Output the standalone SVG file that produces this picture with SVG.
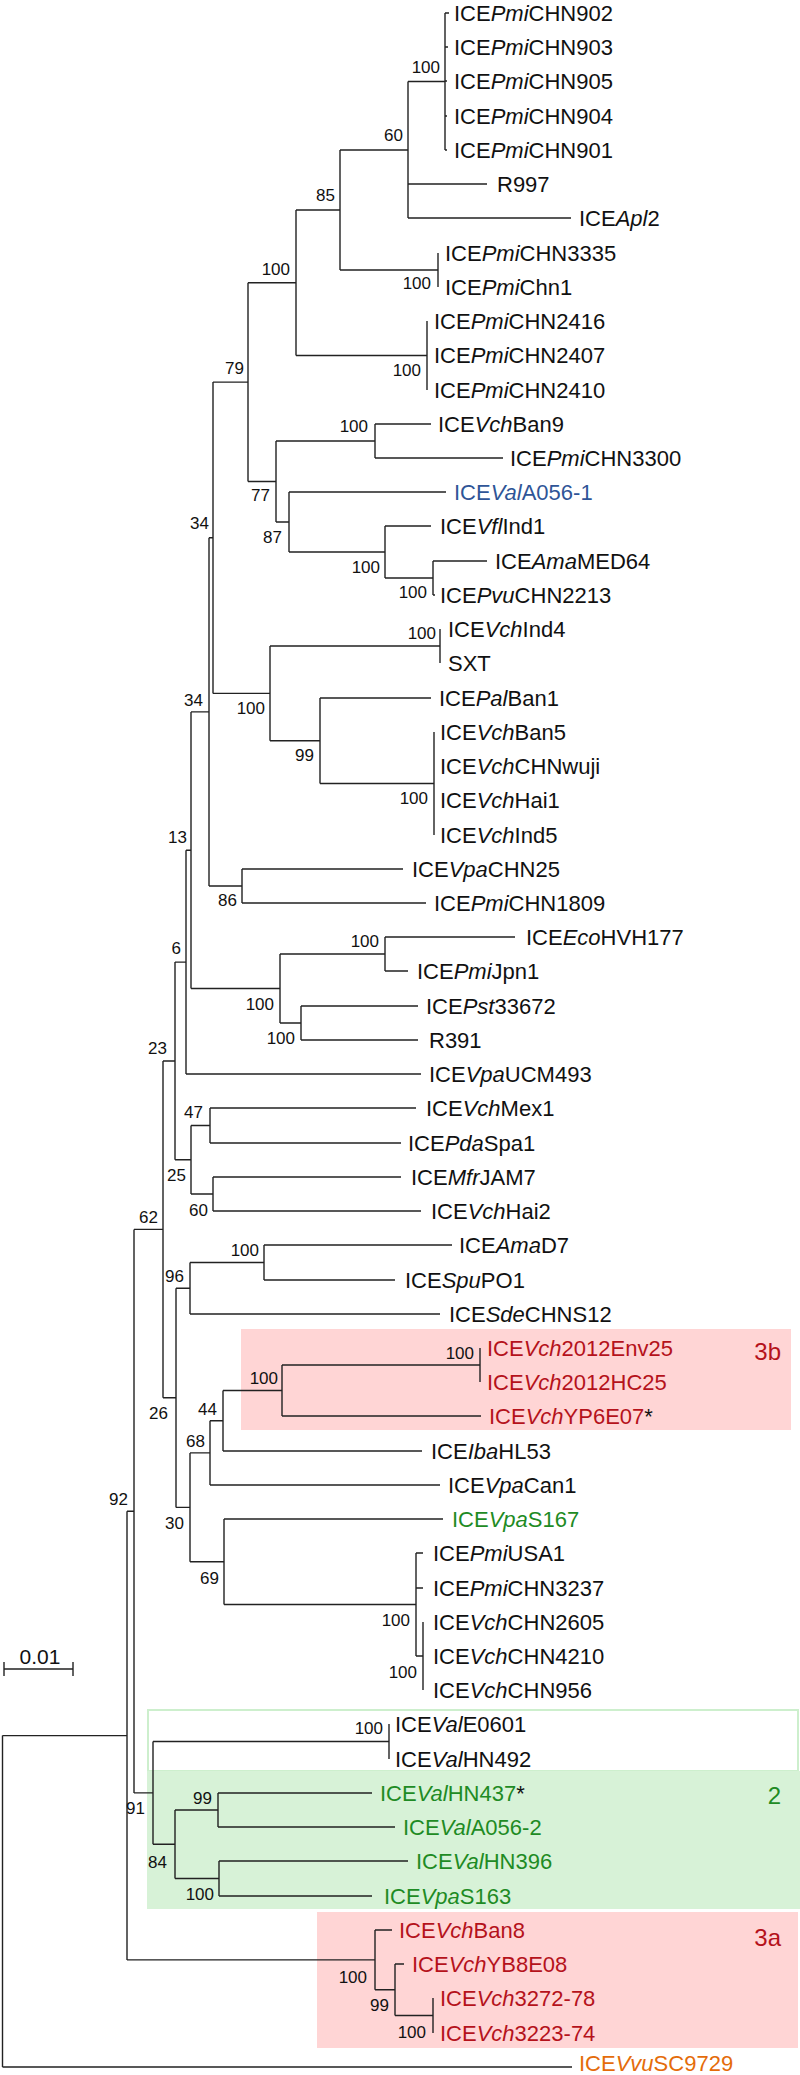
<svg xmlns="http://www.w3.org/2000/svg" width="800" height="2075" viewBox="0 0 800 2075">
<style>
text{font-family:"Liberation Sans",Arial,sans-serif;fill:#111}
.t{font-size:22px}
.b{font-size:17px;text-anchor:end}
.i{font-style:italic}
.r{fill:#B5121B}
.g{fill:#1E8B24}
.bl{fill:#2F5597}
.o{fill:#E46C0A}
.k{fill:#111}
.cl{font-size:24px;text-anchor:end}
.ln{fill:none;stroke:#222;stroke-width:1.4}
</style>
<g id="boxes">
<rect x="241" y="1329" width="550" height="101" fill="#FFD5D5"/>
<rect x="148" y="1710" width="650" height="61" fill="#FFFFFF" stroke="#CDEFCD" stroke-width="2"/>
<rect x="147" y="1771" width="653" height="138" fill="#D7F2D7"/>
<rect x="317" y="1912" width="481" height="136" fill="#FFD5D5"/>
</g>
<g id="connectors" class="ln">
<path d="M2.5,1735.6V2067M2.5,1735.6H127M2.5,2067H572"/>
<path d="M127,1511.2V1959.9M127,1511.2H134M127,1959.9H375"/>
<path d="M134,1229.4V1792.9M134,1229.4H163M134,1792.9H153"/>
<path d="M163,1061V1397.8M163,1061H175M163,1397.8H176"/>
<path d="M175,962.1V1159.8M175,962.1H186M175,1159.8H191"/>
<path d="M186,850.2V1074M186,850.2H191M186,1074H421"/>
<path d="M191,711.9V988.5M191,711.9H209M191,988.5H280"/>
<path d="M209,537.8V886M209,537.8H213M209,886H242"/>
<path d="M213,382.1V693.4M213,382.1H248M213,693.4H270"/>
<path d="M248,282.8V481.5M248,282.8H296M248,481.5H276"/>
<path d="M296,210V355.5M296,210H340M296,355.5H427"/>
<path d="M340,150V270M340,150H408M340,270H438"/>
<path d="M408,81.5V218M408,81.5H445M408,184H487M408,218H571"/>
<path d="M445,13V150M445,13H449M445,47H448M445,81H447M445,116H447M445,150H447"/>
<path d="M438,253V287"/>
<path d="M427,321V390"/>
<path d="M276,441V522M276,441H375M276,522H289"/>
<path d="M375,424V458M375,424H431M375,458H503"/>
<path d="M289,492V552M289,492H446M289,552H385"/>
<path d="M385,526V578M385,526H431M385,578H433"/>
<path d="M433,561V595M433,561H487M433,595H435"/>
<path d="M270,646V740.8M270,646H440M270,740.8H320"/>
<path d="M440,629V663"/>
<path d="M320,698V783.5M320,698H431M320,783.5H434"/>
<path d="M434,732V835"/>
<path d="M242,869V903M242,869H403M242,903H426"/>
<path d="M280,954V1023M280,954H385M280,1023H301"/>
<path d="M385,937V971M385,937H515M385,971H408"/>
<path d="M301,1006V1040M301,1006H418M301,1040H418"/>
<path d="M191,1125.5V1194M191,1125.5H210M191,1194H213"/>
<path d="M210,1108V1143M210,1108H416M210,1143H401"/>
<path d="M213,1177V1211M213,1177H401M213,1211H421"/>
<path d="M176,1288.3V1507.4M176,1288.3H190M176,1507.4H190"/>
<path d="M190,1262.5V1314M190,1262.5H264M190,1314H440"/>
<path d="M264,1245V1280M264,1245H452M264,1280H395"/>
<path d="M190,1452.9V1561.8M190,1452.9H210M190,1561.8H224"/>
<path d="M210,1420.8V1485M210,1420.8H223M210,1485H440"/>
<path d="M223,1390.5V1451M223,1390.5H282M223,1451H422"/>
<path d="M282,1365V1416M282,1365H480M282,1416H481"/>
<path d="M480,1348V1382"/>
<path d="M224,1519V1604.5M224,1519H443M224,1604.5H416"/>
<path d="M416,1553V1656M416,1553H423M416,1588H423M416,1656H423"/>
<path d="M423,1622V1690"/>
<path d="M153,1741.5V1844.3M153,1741.5H389M153,1844.3H175"/>
<path d="M389,1724V1759"/>
<path d="M175,1810V1878.5M175,1810H218M175,1878.5H219"/>
<path d="M218,1793V1827M218,1793H372M218,1827H395"/>
<path d="M219,1861V1896M219,1861H408M219,1896H372"/>
<path d="M375,1930V1989.8M375,1930H392M375,1989.8H395"/>
<path d="M395,1964V2015.5M395,1964H404M395,2015.5H433"/>
<path d="M433,1998V2033"/>
<path d="M4,1669H73M4,1662V1676M73,1662V1676"/>
</g>
<g id="scale"><text x="40" y="1664" style="font-size:21px;text-anchor:middle">0.01</text></g>
<g id="support">
<text class="b" x="440" y="73">100</text>
<text class="b" x="403" y="141">60</text>
<text class="b" x="335" y="201">85</text>
<text class="b" x="431" y="289">100</text>
<text class="b" x="290" y="275">100</text>
<text class="b" x="421" y="376">100</text>
<text class="b" x="244" y="374">79</text>
<text class="b" x="368" y="432">100</text>
<text class="b" x="270" y="501">77</text>
<text class="b" x="209" y="529">34</text>
<text class="b" x="282" y="543">87</text>
<text class="b" x="380" y="573">100</text>
<text class="b" x="427" y="598">100</text>
<text class="b" x="436" y="639">100</text>
<text class="b" x="203" y="706">34</text>
<text class="b" x="265" y="714">100</text>
<text class="b" x="314" y="761">99</text>
<text class="b" x="428" y="804">100</text>
<text class="b" x="187" y="843">13</text>
<text class="b" x="237" y="906">86</text>
<text class="b" x="181" y="954">6</text>
<text class="b" x="379" y="947">100</text>
<text class="b" x="274" y="1010">100</text>
<text class="b" x="295" y="1044">100</text>
<text class="b" x="167" y="1054">23</text>
<text class="b" x="203" y="1118">47</text>
<text class="b" x="186" y="1181">25</text>
<text class="b" x="208" y="1216">60</text>
<text class="b" x="158" y="1223">62</text>
<text class="b" x="259" y="1256">100</text>
<text class="b" x="184" y="1282">96</text>
<text class="b" x="474" y="1359">100</text>
<text class="b" x="278" y="1384">100</text>
<text class="b" x="168" y="1419">26</text>
<text class="b" x="217" y="1415">44</text>
<text class="b" x="205" y="1447">68</text>
<text class="b" x="128" y="1505">92</text>
<text class="b" x="184" y="1529">30</text>
<text class="b" x="219" y="1584">69</text>
<text class="b" x="410" y="1626">100</text>
<text class="b" x="417" y="1678">100</text>
<text class="b" x="383" y="1734">100</text>
<text class="b" x="145" y="1814">91</text>
<text class="b" x="212" y="1804">99</text>
<text class="b" x="167" y="1868">84</text>
<text class="b" x="214" y="1900">100</text>
<text class="b" x="367" y="1983">100</text>
<text class="b" x="389" y="2011">99</text>
<text class="b" x="426" y="2038">100</text>
</g>
<g id="clade-labels">
<text class="cl r" x="781" y="1360">3b</text>
<text class="cl g" x="781" y="1804">2</text>
<text class="cl r" x="781" y="1946">3a</text>
</g>
<g id="leaves" class="t">
<g id="n0"><text class="t" x="454" y="20.5">ICE<tspan class="i">Pmi</tspan>CHN902</text></g>
<g id="n1"><text class="t" x="454" y="54.5">ICE<tspan class="i">Pmi</tspan>CHN903</text></g>
<g id="n2"><text class="t" x="454" y="88.5">ICE<tspan class="i">Pmi</tspan>CHN905</text></g>
<g id="n3"><text class="t" x="454" y="123.5">ICE<tspan class="i">Pmi</tspan>CHN904</text></g>
<g id="n4"><text class="t" x="454" y="157.5">ICE<tspan class="i">Pmi</tspan>CHN901</text></g>
<g id="n5"><text class="t" x="497" y="191.5">R997</text></g>
<g id="n6"><text class="t" x="579" y="225.5">ICE<tspan class="i">Apl</tspan>2</text></g>
<g id="n7"><text class="t" x="445" y="260.5">ICE<tspan class="i">Pmi</tspan>CHN3335</text></g>
<g id="n8"><text class="t" x="445" y="294.5">ICE<tspan class="i">Pmi</tspan>Chn1</text></g>
<g id="n9"><text class="t" x="434" y="328.5">ICE<tspan class="i">Pmi</tspan>CHN2416</text></g>
<g id="n10"><text class="t" x="434" y="362.5">ICE<tspan class="i">Pmi</tspan>CHN2407</text></g>
<g id="n11"><text class="t" x="434" y="397.5">ICE<tspan class="i">Pmi</tspan>CHN2410</text></g>
<g id="n12"><text class="t" x="438" y="431.5">ICE<tspan class="i">Vch</tspan>Ban9</text></g>
<g id="n13"><text class="t" x="510" y="465.5">ICE<tspan class="i">Pmi</tspan>CHN3300</text></g>
<g id="n14"><text class="t bl" x="454" y="499.5">ICE<tspan class="i">Val</tspan>A056-1</text></g>
<g id="n15"><text class="t" x="440" y="533.5">ICE<tspan class="i">Vfl</tspan>Ind1</text></g>
<g id="n16"><text class="t" x="495" y="568.5">ICE<tspan class="i">Ama</tspan>MED64</text></g>
<g id="n17"><text class="t" x="440" y="602.5">ICE<tspan class="i">Pvu</tspan>CHN2213</text></g>
<g id="n18"><text class="t" x="448" y="636.5">ICE<tspan class="i">Vch</tspan>Ind4</text></g>
<g id="n19"><text class="t" x="448" y="670.5">SXT</text></g>
<g id="n20"><text class="t" x="439" y="705.5">ICE<tspan class="i">Pal</tspan>Ban1</text></g>
<g id="n21"><text class="t" x="440" y="739.5">ICE<tspan class="i">Vch</tspan>Ban5</text></g>
<g id="n22"><text class="t" x="440" y="773.5">ICE<tspan class="i">Vch</tspan>CHNwuji</text></g>
<g id="n23"><text class="t" x="440" y="807.5">ICE<tspan class="i">Vch</tspan>Hai1</text></g>
<g id="n24"><text class="t" x="440" y="842.5">ICE<tspan class="i">Vch</tspan>Ind5</text></g>
<g id="n25"><text class="t" x="412" y="876.5">ICE<tspan class="i">Vpa</tspan>CHN25</text></g>
<g id="n26"><text class="t" x="434" y="910.5">ICE<tspan class="i">Pmi</tspan>CHN1809</text></g>
<g id="n27"><text class="t" x="526" y="944.5">ICE<tspan class="i">Eco</tspan>HVH177</text></g>
<g id="n28"><text class="t" x="417" y="978.5">ICE<tspan class="i">Pmi</tspan>Jpn1</text></g>
<g id="n29"><text class="t" x="426" y="1013.5">ICE<tspan class="i">Pst</tspan>33672</text></g>
<g id="n30"><text class="t" x="429" y="1047.5">R391</text></g>
<g id="n31"><text class="t" x="429" y="1081.5">ICE<tspan class="i">Vpa</tspan>UCM493</text></g>
<g id="n32"><text class="t" x="426" y="1115.5">ICE<tspan class="i">Vch</tspan>Mex1</text></g>
<g id="n33"><text class="t" x="408" y="1150.5">ICE<tspan class="i">Pda</tspan>Spa1</text></g>
<g id="n34"><text class="t" x="411" y="1184.5">ICE<tspan class="i">Mfr</tspan>JAM7</text></g>
<g id="n35"><text class="t" x="431" y="1218.5">ICE<tspan class="i">Vch</tspan>Hai2</text></g>
<g id="n36"><text class="t" x="459" y="1252.5">ICE<tspan class="i">Ama</tspan>D7</text></g>
<g id="n37"><text class="t" x="405" y="1287.5">ICE<tspan class="i">Spu</tspan>PO1</text></g>
<g id="n38"><text class="t" x="449" y="1321.5">ICE<tspan class="i">Sde</tspan>CHNS12</text></g>
<g id="n39"><text class="t r" x="487" y="1355.5">ICE<tspan class="i">Vch</tspan>2012Env25</text></g>
<g id="n40"><text class="t r" x="487" y="1389.5">ICE<tspan class="i">Vch</tspan>2012HC25</text></g>
<g id="n41"><text class="t r" x="489" y="1423.5">ICE<tspan class="i">Vch</tspan>YP6E07<tspan class="k">*</tspan></text></g>
<g id="n42"><text class="t" x="431" y="1458.5">ICE<tspan class="i">Iba</tspan>HL53</text></g>
<g id="n43"><text class="t" x="448" y="1492.5">ICE<tspan class="i">Vpa</tspan>Can1</text></g>
<g id="n44"><text class="t g" x="452" y="1526.5">ICE<tspan class="i">Vpa</tspan>S167</text></g>
<g id="n45"><text class="t" x="433" y="1560.5">ICE<tspan class="i">Pmi</tspan>USA1</text></g>
<g id="n46"><text class="t" x="433" y="1595.5">ICE<tspan class="i">Pmi</tspan>CHN3237</text></g>
<g id="n47"><text class="t" x="433" y="1629.5">ICE<tspan class="i">Vch</tspan>CHN2605</text></g>
<g id="n48"><text class="t" x="433" y="1663.5">ICE<tspan class="i">Vch</tspan>CHN4210</text></g>
<g id="n49"><text class="t" x="433" y="1697.5">ICE<tspan class="i">Vch</tspan>CHN956</text></g>
<g id="n50"><text class="t" x="395" y="1731.5">ICE<tspan class="i">Val</tspan>E0601</text></g>
<g id="n51"><text class="t" x="395" y="1766.5">ICE<tspan class="i">Val</tspan>HN492</text></g>
<g id="n52"><text class="t g" x="380" y="1800.5">ICE<tspan class="i">Val</tspan>HN437<tspan class="k">*</tspan></text></g>
<g id="n53"><text class="t g" x="403" y="1834.5">ICE<tspan class="i">Val</tspan>A056-2</text></g>
<g id="n54"><text class="t g" x="416" y="1868.5">ICE<tspan class="i">Val</tspan>HN396</text></g>
<g id="n55"><text class="t g" x="384" y="1903.5">ICE<tspan class="i">Vpa</tspan>S163</text></g>
<g id="n56"><text class="t r" x="399" y="1937.5">ICE<tspan class="i">Vch</tspan>Ban8</text></g>
<g id="n57"><text class="t r" x="412" y="1971.5">ICE<tspan class="i">Vch</tspan>YB8E08</text></g>
<g id="n58"><text class="t r" x="440" y="2005.5">ICE<tspan class="i">Vch</tspan>3272-78</text></g>
<g id="n59"><text class="t r" x="440" y="2040.5">ICE<tspan class="i">Vch</tspan>3223-74</text></g>
<g id="n60"><text class="t o" x="579" y="2071">ICE<tspan class="i">Vvu</tspan>SC9729</text></g>
</g>
</svg>
